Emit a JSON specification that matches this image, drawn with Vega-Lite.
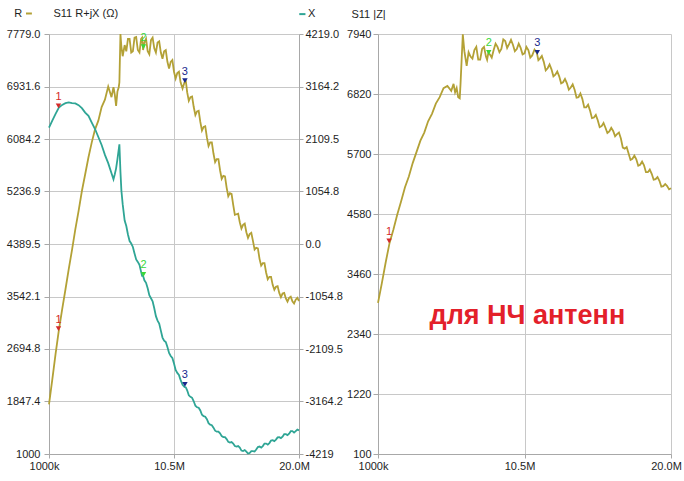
{
  "$schema": "https://vega.github.io/schema/vega-lite/v6.json",
  "background": "white",
  "padding": {"left": 6, "top": 8, "right": 0, "bottom": 0},
  "spacing": 3,
  "config": {
    "view": {"stroke": null},
    "font": "Liberation Sans",
    "axis": {
      "labelFont": "Liberation Sans",
      "labelFontSize": 11,
      "labelColor": "#1e1e1e",
      "domainColor": "#a8a8a8",
      "tickColor": "#a8a8a8",
      "gridColor": "#c8c8c8",
      "gridWidth": 1,
      "labelFlush": false,
      "labelOverlap": false,
      "labelBound": false
    }
  },
  "datasets": {
    "s": [
      {"f": 1.0, "R": 1802, "X": 2337, "Z": 2920},
      {"f": 1.25, "R": 2200, "X": 2480, "Z": 3290},
      {"f": 1.5, "R": 2615, "X": 2615, "Z": 3680},
      {"f": 1.75, "R": 3000, "X": 2740, "Z": 4040},
      {"f": 2.0, "R": 3335, "X": 2795, "Z": 4290},
      {"f": 2.25, "R": 3655, "X": 2830, "Z": 4570},
      {"f": 2.5, "R": 3985, "X": 2845, "Z": 4820},
      {"f": 2.75, "R": 4295, "X": 2830, "Z": 5080},
      {"f": 3.0, "R": 4625, "X": 2825, "Z": 5280},
      {"f": 3.25, "R": 4925, "X": 2790, "Z": 5530},
      {"f": 3.5, "R": 5245, "X": 2730, "Z": 5740},
      {"f": 3.75, "R": 5515, "X": 2640, "Z": 5950},
      {"f": 4.0, "R": 5790, "X": 2575, "Z": 6100},
      {"f": 4.25, "R": 6030, "X": 2440, "Z": 6310},
      {"f": 4.5, "R": 6240, "X": 2310, "Z": 6450},
      {"f": 4.75, "R": 6380, "X": 2150, "Z": 6640},
      {"f": 5.0, "R": 6600, "X": 1990, "Z": 6760},
      {"f": 5.25, "R": 6720, "X": 1790, "Z": 6930},
      {"f": 5.5, "R": 6930, "X": 1625, "Z": 6970},
      {"f": 5.75, "R": 6760, "X": 1420, "Z": 6880},
      {"f": 5.9, "R": 6920, "X": 1300, "Z": 7010},
      {"f": 6.0, "R": 6800, "X": 1400, "Z": 6850},
      {"f": 6.1, "R": 6620, "X": 1520, "Z": 6930},
      {"f": 6.2, "R": 6850, "X": 1700, "Z": 6760},
      {"f": 6.3, "R": 6920, "X": 1900, "Z": 6740},
      {"f": 6.35, "R": 7000, "X": 2003, "Z": 7000},
      {"f": 6.43, "R": 7779, "X": 1450, "Z": 7500},
      {"f": 6.5, "R": 7580, "X": 1080, "Z": 7934},
      {"f": 6.6, "R": 7420, "X": 800, "Z": 7620},
      {"f": 6.75, "R": 7600, "X": 470, "Z": 7343},
      {"f": 6.875, "R": 7500, "X": 360, "Z": 7600},
      {"f": 7.0, "R": 7700, "X": 190, "Z": 7520},
      {"f": 7.125, "R": 7700, "X": 60, "Z": 7480},
      {"f": 7.25, "R": 7480, "X": 10, "Z": 7640},
      {"f": 7.375, "R": 7500, "X": -60, "Z": 7700},
      {"f": 7.5, "R": 7720, "X": -190, "Z": 7460},
      {"f": 7.625, "R": 7730, "X": -310, "Z": 7460},
      {"f": 7.75, "R": 7520, "X": -360, "Z": 7660},
      {"f": 7.875, "R": 7480, "X": -420, "Z": 7700},
      {"f": 8.0, "R": 7700, "X": -560, "Z": 7520},
      {"f": 8.075, "R": 7720, "X": -640, "Z": 7460},
      {"f": 8.15, "R": 7520, "X": -640, "Z": 7580},
      {"f": 8.25, "R": 7640, "X": -730, "Z": 7560},
      {"f": 8.375, "R": 7700, "X": -780, "Z": 7500},
      {"f": 8.5, "R": 7500, "X": -890, "Z": 7640},
      {"f": 8.625, "R": 7450, "X": -1030, "Z": 7760},
      {"f": 8.75, "R": 7680, "X": -1090, "Z": 7700},
      {"f": 8.875, "R": 7720, "X": -1150, "Z": 7600},
      {"f": 9.0, "R": 7550, "X": -1290, "Z": 7660},
      {"f": 9.125, "R": 7480, "X": -1450, "Z": 7840},
      {"f": 9.25, "R": 7640, "X": -1540, "Z": 7810},
      {"f": 9.375, "R": 7660, "X": -1600, "Z": 7680},
      {"f": 9.5, "R": 7480, "X": -1740, "Z": 7750},
      {"f": 9.625, "R": 7380, "X": -1880, "Z": 7830},
      {"f": 9.75, "R": 7500, "X": -1940, "Z": 7740},
      {"f": 9.875, "R": 7520, "X": -1970, "Z": 7620},
      {"f": 10.0, "R": 7330, "X": -2070, "Z": 7660},
      {"f": 10.125, "R": 7220, "X": -2190, "Z": 7760},
      {"f": 10.25, "R": 7330, "X": -2250, "Z": 7680},
      {"f": 10.375, "R": 7360, "X": -2290, "Z": 7560},
      {"f": 10.5, "R": 7170, "X": -2400, "Z": 7580},
      {"f": 10.625, "R": 7060, "X": -2530, "Z": 7700},
      {"f": 10.75, "R": 7150, "X": -2590, "Z": 7640},
      {"f": 10.875, "R": 7170, "X": -2630, "Z": 7500},
      {"f": 11.0, "R": 7000, "X": -2730, "Z": 7540},
      {"f": 11.15, "R": 6900, "X": -2830, "Z": 7650},
      {"f": 11.3, "R": 7000, "X": -2870, "Z": 7590},
      {"f": 11.4, "R": 7020, "X": -2880, "Z": 7450},
      {"f": 11.5, "R": 6840, "X": -2940, "Z": 7480},
      {"f": 11.625, "R": 6700, "X": -3040, "Z": 7530},
      {"f": 11.75, "R": 6760, "X": -3070, "Z": 7420},
      {"f": 11.875, "R": 6770, "X": -3090, "Z": 7260},
      {"f": 12.0, "R": 6600, "X": -3160, "Z": 7300},
      {"f": 12.125, "R": 6470, "X": -3250, "Z": 7370},
      {"f": 12.25, "R": 6530, "X": -3280, "Z": 7280},
      {"f": 12.375, "R": 6540, "X": -3290, "Z": 7150},
      {"f": 12.5, "R": 6360, "X": -3345, "Z": 7180},
      {"f": 12.625, "R": 6220, "X": -3430, "Z": 7240},
      {"f": 12.75, "R": 6280, "X": -3460, "Z": 7150},
      {"f": 12.875, "R": 6290, "X": -3470, "Z": 7020},
      {"f": 13.0, "R": 6110, "X": -3520, "Z": 7040},
      {"f": 13.125, "R": 5970, "X": -3600, "Z": 7100},
      {"f": 13.25, "R": 6030, "X": -3630, "Z": 7020},
      {"f": 13.375, "R": 6030, "X": -3640, "Z": 6900},
      {"f": 13.5, "R": 5850, "X": -3690, "Z": 6940},
      {"f": 13.625, "R": 5710, "X": -3750, "Z": 7000},
      {"f": 13.75, "R": 5760, "X": -3770, "Z": 6900},
      {"f": 13.875, "R": 5760, "X": -3770, "Z": 6750},
      {"f": 14.0, "R": 5580, "X": -3805, "Z": 6760},
      {"f": 14.125, "R": 5440, "X": -3860, "Z": 6830},
      {"f": 14.25, "R": 5490, "X": -3880, "Z": 6730},
      {"f": 14.375, "R": 5480, "X": -3880, "Z": 6570},
      {"f": 14.5, "R": 5300, "X": -3920, "Z": 6570},
      {"f": 14.625, "R": 5160, "X": -3975, "Z": 6620},
      {"f": 14.75, "R": 5210, "X": -3990, "Z": 6510},
      {"f": 14.875, "R": 5200, "X": -3980, "Z": 6370},
      {"f": 15.0, "R": 5020, "X": -4010, "Z": 6380},
      {"f": 15.125, "R": 4860, "X": -4060, "Z": 6430},
      {"f": 15.25, "R": 4870, "X": -4070, "Z": 6330},
      {"f": 15.375, "R": 4880, "X": -4060, "Z": 6200},
      {"f": 15.5, "R": 4740, "X": -4090, "Z": 6220},
      {"f": 15.625, "R": 4640, "X": -4150, "Z": 6280},
      {"f": 15.75, "R": 4700, "X": -4160, "Z": 6190},
      {"f": 15.875, "R": 4720, "X": -4140, "Z": 6090},
      {"f": 16.0, "R": 4580, "X": -4170, "Z": 6120},
      {"f": 16.125, "R": 4490, "X": -4210, "Z": 6190},
      {"f": 16.25, "R": 4550, "X": -4200, "Z": 6130},
      {"f": 16.375, "R": 4570, "X": -4160, "Z": 6030},
      {"f": 16.5, "R": 4440, "X": -4160, "Z": 6070},
      {"f": 16.625, "R": 4300, "X": -4170, "Z": 6100},
      {"f": 16.75, "R": 4330, "X": -4130, "Z": 5990},
      {"f": 16.875, "R": 4320, "X": -4080, "Z": 5820},
      {"f": 17.0, "R": 4150, "X": -4070, "Z": 5800},
      {"f": 17.125, "R": 4040, "X": -4090, "Z": 5830},
      {"f": 17.25, "R": 4080, "X": -4060, "Z": 5710},
      {"f": 17.375, "R": 4080, "X": -4010, "Z": 5590},
      {"f": 17.5, "R": 3930, "X": -4010, "Z": 5610},
      {"f": 17.625, "R": 3820, "X": -4030, "Z": 5670},
      {"f": 17.75, "R": 3860, "X": -4000, "Z": 5600},
      {"f": 17.875, "R": 3860, "X": -3950, "Z": 5480},
      {"f": 18.0, "R": 3730, "X": -3940, "Z": 5500},
      {"f": 18.125, "R": 3650, "X": -3960, "Z": 5560},
      {"f": 18.25, "R": 3700, "X": -3930, "Z": 5490},
      {"f": 18.375, "R": 3710, "X": -3885, "Z": 5360},
      {"f": 18.5, "R": 3600, "X": -3880, "Z": 5360},
      {"f": 18.625, "R": 3530, "X": -3900, "Z": 5410},
      {"f": 18.75, "R": 3590, "X": -3870, "Z": 5330},
      {"f": 18.875, "R": 3600, "X": -3820, "Z": 5220},
      {"f": 19.0, "R": 3510, "X": -3820, "Z": 5230},
      {"f": 19.125, "R": 3460, "X": -3840, "Z": 5270},
      {"f": 19.25, "R": 3520, "X": -3810, "Z": 5200},
      {"f": 19.375, "R": 3540, "X": -3760, "Z": 5090},
      {"f": 19.5, "R": 3465, "X": -3760, "Z": 5100},
      {"f": 19.625, "R": 3430, "X": -3790, "Z": 5140},
      {"f": 19.75, "R": 3490, "X": -3760, "Z": 5100},
      {"f": 19.875, "R": 3520, "X": -3730, "Z": 5040},
      {"f": 20.0, "R": 3470, "X": -3745, "Z": 5060}
    ],
    "m": [
      {"id": "1", "f": 1.72, "R": 2990, "X": 2735, "Z": 4040},
      {"id": "2", "f": 8.18, "R": 7541, "X": -650, "Z": 7561},
      {"id": "3", "f": 11.33, "R": 6993, "X": -2860, "Z": 7561}
    ],
    "one": [{"k": 1}]
  },
  "hconcat": [
    {
      "width": 250,
      "height": 420,
      "layer": [
        {
          "layer": [
            {
              "data": {"name": "s"},
              "mark": {"type": "line", "color": "#b3a136", "strokeWidth": 1.8},
              "encoding": {
                "x": {"field": "f", "type": "quantitative", "scale": {"domain": [1, 20], "nice": false, "zero": false},
                  "axis": {"values": [1, 10.5, 20], "labelExpr": "datum.value == 1 ? '1000k' : datum.value == 10.5 ? '10.5M' : '20.0M'", "title": null, "grid": true, "tickSize": 4, "labelPadding": 2, "labelOffset": -5}},
                "y": {"field": "R", "type": "quantitative", "scale": {"domain": [1000, 7779], "nice": false, "zero": false},
                  "axis": {"orient": "left", "values": [1000, 1847.4, 2694.8, 3542.1, 4389.5, 5236.9, 6084.2, 6931.6, 7779], "labelExpr": "datum.value == 1000 ? '1000' : format(datum.value, '.1f')", "title": null, "grid": true, "tickSize": 5, "labelPadding": 4}}
              }
            },
            {
              "data": {"name": "m"},
              "mark": {"type": "point", "shape": "triangle-down", "filled": true, "size": 30, "opacity": 1, "yOffset": -2},
              "encoding": {
                "x": {"field": "f", "type": "quantitative"},
                "y": {"field": "R", "type": "quantitative"},
                "color": {"field": "id", "type": "nominal", "scale": {"domain": ["1", "2", "3"], "range": ["#d42a2a", "#3ad83a", "#18288c"]}, "legend": null}
              }
            },
            {
              "data": {"name": "m"},
              "mark": {"type": "text", "dy": -11, "fontSize": 11, "font": "Liberation Sans"},
              "encoding": {
                "x": {"field": "f", "type": "quantitative"},
                "y": {"field": "R", "type": "quantitative"},
                "text": {"field": "id"},
                "color": {"field": "id", "type": "nominal", "scale": {"domain": ["1", "2", "3"], "range": ["#d42a2a", "#3ad83a", "#18288c"]}, "legend": null}
              }
            },
            {
              "data": {"name": "one"},
              "mark": {"type": "text", "align": "left", "baseline": "middle", "fontSize": 11, "color": "#1e1e1e"},
              "encoding": {
                "x": {"datum": -1.65, "type": "quantitative"},
                "y": {"datum": 8094, "type": "quantitative"},
                "text": {"value": "R"}
              }
            },
            {
              "data": {"name": "one"},
              "mark": {"type": "text", "align": "left", "baseline": "middle", "fontSize": 11, "color": "#1e1e1e"},
              "encoding": {
                "x": {"datum": 1.34, "type": "quantitative"},
                "y": {"datum": 8094, "type": "quantitative"},
                "text": {"value": "S11 R+jX (Ω)"}
              }
            },
            {
              "data": {"name": "one"},
              "mark": {"type": "text", "align": "left", "baseline": "middle", "fontSize": 11, "color": "#1e1e1e"},
              "encoding": {
                "x": {"datum": 20.68, "type": "quantitative"},
                "y": {"datum": 8094, "type": "quantitative"},
                "text": {"value": "X"}
              }
            },
            {
              "data": {"name": "one"},
              "mark": {"type": "rule", "color": "#b3a136", "strokeWidth": 2},
              "encoding": {
                "x": {"datum": -0.75, "type": "quantitative"},
                "x2": {"datum": -0.3},
                "y": {"datum": 8110, "type": "quantitative"}
              }
            },
            {
              "data": {"name": "one"},
              "mark": {"type": "rule", "color": "#2fa595", "strokeWidth": 2},
              "encoding": {
                "x": {"datum": 20.02, "type": "quantitative"},
                "x2": {"datum": 20.49},
                "y": {"datum": 8100, "type": "quantitative"}
              }
            }
          ]
        },
        {
          "layer": [
            {
              "data": {"name": "s"},
              "mark": {"type": "line", "color": "#2fa595", "strokeWidth": 1.8},
              "encoding": {
                "x": {"field": "f", "type": "quantitative"},
                "y": {"field": "X", "type": "quantitative", "scale": {"domain": [-4219, 4219], "nice": false, "zero": false},
                  "axis": {"orient": "right", "values": [-4219, -3164.2, -2109.5, -1054.8, 0, 1054.8, 2109.5, 3164.2, 4219], "labelExpr": "datum.value == -4219 ? '-4219' : (datum.value < 0 ? '-' : '') + format(abs(datum.value), '.1f')", "title": null, "grid": false, "tickSize": 4, "labelPadding": 2}}
              }
            },
            {
              "data": {"name": "m"},
              "mark": {"type": "point", "shape": "triangle-down", "filled": true, "size": 30, "opacity": 1, "yOffset": -2},
              "encoding": {
                "x": {"field": "f", "type": "quantitative"},
                "y": {"field": "X", "type": "quantitative"},
                "color": {"field": "id", "type": "nominal", "scale": {"domain": ["1", "2", "3"], "range": ["#d42a2a", "#3ad83a", "#18288c"]}, "legend": null}
              }
            },
            {
              "data": {"name": "m"},
              "mark": {"type": "text", "dy": -11, "fontSize": 11, "font": "Liberation Sans"},
              "encoding": {
                "x": {"field": "f", "type": "quantitative"},
                "y": {"field": "X", "type": "quantitative"},
                "text": {"field": "id"},
                "color": {"field": "id", "type": "nominal", "scale": {"domain": ["1", "2", "3"], "range": ["#d42a2a", "#3ad83a", "#18288c"]}, "legend": null}
              }
            }
          ]
        }
      ],
      "resolve": {"scale": {"y": "independent"}}
    },
    {
      "width": 293,
      "height": 420,
      "layer": [
        {
          "data": {"name": "s"},
          "mark": {"type": "line", "color": "#b3a136", "strokeWidth": 1.8},
          "encoding": {
            "x": {"field": "f", "type": "quantitative", "scale": {"domain": [1, 20], "nice": false, "zero": false},
              "axis": {"values": [1, 10.5, 20], "labelExpr": "datum.value == 1 ? '1000k' : datum.value == 10.5 ? '10.5M' : '20.0M'", "title": null, "grid": true, "tickSize": 4, "labelPadding": 2, "labelOffset": -5}},
            "y": {"field": "Z", "type": "quantitative", "scale": {"domain": [100, 7940], "nice": false, "zero": false},
              "axis": {"orient": "left", "values": [100, 1220, 2340, 3460, 4580, 5700, 6820, 7940], "format": "d", "title": null, "grid": true, "tickSize": 5, "labelPadding": 2}}
          }
        },
        {
          "data": {"name": "m"},
          "mark": {"type": "point", "shape": "triangle-down", "filled": true, "size": 30, "opacity": 1, "yOffset": -2},
          "encoding": {
            "x": {"field": "f", "type": "quantitative"},
            "y": {"field": "Z", "type": "quantitative"},
            "color": {"field": "id", "type": "nominal", "scale": {"domain": ["1", "2", "3"], "range": ["#d42a2a", "#3ad83a", "#18288c"]}, "legend": null}
          }
        },
        {
          "data": {"name": "m"},
          "mark": {"type": "text", "dy": -11, "fontSize": 11, "font": "Liberation Sans"},
          "encoding": {
            "x": {"field": "f", "type": "quantitative"},
            "y": {"field": "Z", "type": "quantitative"},
            "text": {"field": "id"},
            "color": {"field": "id", "type": "nominal", "scale": {"domain": ["1", "2", "3"], "range": ["#d42a2a", "#3ad83a", "#18288c"]}, "legend": null}
          }
        },
        {
          "data": {"name": "one"},
          "mark": {"type": "text", "align": "left", "baseline": "middle", "fontSize": 11, "color": "#1e1e1e"},
          "encoding": {
            "x": {"datum": -0.72, "type": "quantitative"},
            "y": {"datum": 8295, "type": "quantitative"},
            "text": {"value": "S11 |Z|"}
          }
        },
        {
          "data": {"name": "one"},
          "mark": {"type": "text", "align": "left", "baseline": "middle", "fontSize": 27, "fontWeight": "bold", "font": "Liberation Sans", "color": "#e3202a"},
          "encoding": {
            "x": {"datum": 4.34, "type": "quantitative"},
            "y": {"datum": 2676, "type": "quantitative"},
            "text": {"value": "для НЧ антенн"}
          }
        }
      ]
    }
  ]
}
